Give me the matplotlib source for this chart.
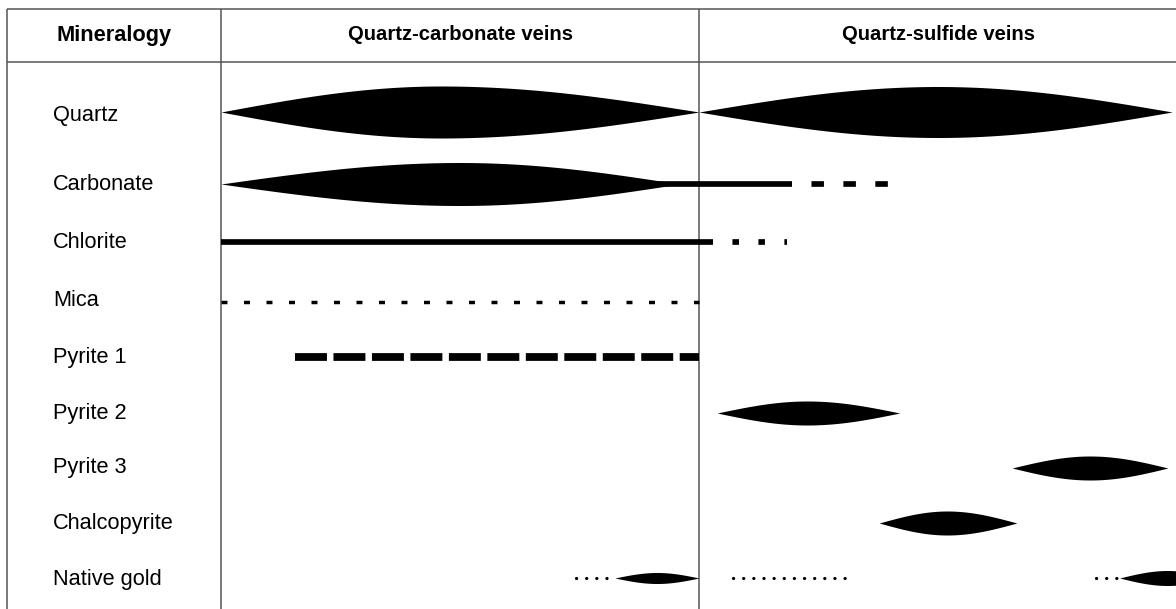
import numpy as np
import matplotlib.pyplot as plt

plt.rcParams['font.family'] = ['Liberation Sans', 'DejaVu Sans']
plt.rcParams['lines.scale_dashes'] = False

# rows of the paragenetic table, top to bottom
minerals = ['Quartz', 'Carbonate', 'Chlorite', 'Mica', 'Pyrite 1', 'Pyrite 2',
            'Pyrite 3', 'Chalcopyrite', 'Native gold']
stages = ['Quartz-carbonate veins', 'Quartz-sulfide veins']

# x is in stage units: 0-1 quartz-carbonate veins, 1-2 quartz-sulfide veins
# lenses: (mineral, start, widest point, end, max thickness)
lenses = [
    ('Quartz', 0.0, 0.46, 1.0, 52),
    ('Quartz', 1.0, 1.50, 1.99, 51),
    ('Carbonate', 0.0, 0.50, 0.96, 43),
    ('Pyrite 2', 1.038, 1.226, 1.42, 24),
    ('Pyrite 3', 1.655, 1.818, 1.981, 24),
    ('Chalcopyrite', 1.377, 1.519, 1.665, 24),
    ('Native gold', 0.824, 0.912, 1.0, 11),
    ('Native gold', 1.88, 1.98, 2.08, 15),
]
# bars: (mineral, start, end, style)
bars = [
    ('Carbonate', 0.90, 1.195, 'solid'),
    ('Carbonate', 1.195, 1.395, 'dash'),
    ('Chlorite', 0.0, 1.03, 'solid'),
    ('Chlorite', 1.03, 1.184, 'dot'),
    ('Mica', 0.0, 1.0, 'fine'),
    ('Pyrite 1', 0.155, 1.0, 'long'),
    ('Native gold', 0.743, 0.824, 'trace'),
    ('Native gold', 1.071, 1.316, 'trace'),
    ('Native gold', 1.83, 1.88, 'trace'),
]

# layout (pixels from top)
row_y = [112, 184, 242, 302, 357, 413, 468, 523, 578]
label_dy = [3, 0, 0, -1, 0, 0, 0, 0, 1]
styles = {
    'solid': dict(lw=4.1, ls='-'),
    'dash': dict(lw=4.1, ls=(9, (9, 14))),
    'dot': dict(lw=4.1, ls=(4.7, (4.7, 14))),
    'fine': dict(lw=2.5, ls=(0, (4.3, 11.9))),
    'long': dict(lw=5.6, ls=(0, (23, 4.7))),
    'trace': dict(lw=2.3, ls=(0, (0.1, 7.2)), dash_capstyle='round'),
}

fig = plt.figure(figsize=(11.76, 6.09), dpi=100)
ax = fig.add_axes([0, 0, 1, 1])
ax.set_xlim(-221 / 478, 955 / 478)
ax.set_ylim(609, 0)
ax.axis('off')

ypos = dict(zip(minerals, row_y))

# table grid
grid_kw = dict(color='#555555', lw=1.1, zorder=1)
left = -214 / 478
ax.hlines([9, 62], left, 2.1, **grid_kw)
ax.vlines([left, 0, 1], 9, 609, **grid_kw)

# headers
ax.text((left + 0) / 2, 35, 'Mineralogy', ha='center', va='center',
        fontsize=15.7, fontweight='bold')
for i, s in enumerate(stages):
    ax.text(i + 0.5, 35, s, ha='center', va='center', fontsize=14.6, fontweight='bold')

# row labels
for m, dy in zip(minerals, label_dy):
    ax.text(-168 / 478, ypos[m] + dy, m, ha='left', va='center', fontsize=15.7)

# bars
for m, x0, x1, st in bars:
    kw = dict(styles[st])
    kw.setdefault('dash_capstyle', 'butt')
    ax.plot([x0, x1], [ypos[m], ypos[m]], color='black',
            solid_capstyle='butt', zorder=3, **kw)

# lenses
for m, a, p, b, h in lenses:
    x = np.linspace(a, b, 300)
    t = np.where(x < p, (x - a) / (p - a), (b - x) / (b - p))
    half = h / 2 * np.sin(np.pi / 2 * t)
    ax.fill_between(x, ypos[m] - half, ypos[m] + half, color='black', lw=0, zorder=4)

plt.savefig('out.png', dpi=100)
